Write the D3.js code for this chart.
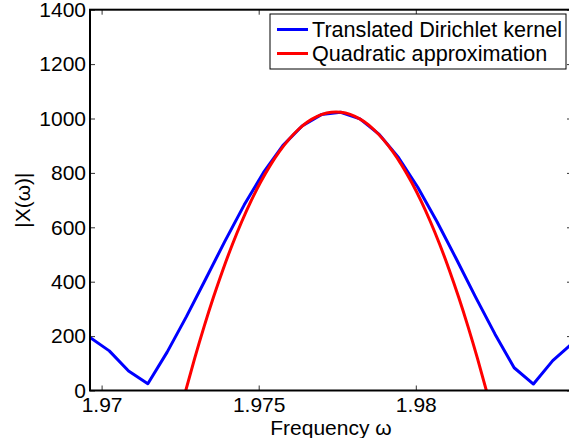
<!DOCTYPE html>
<html>
<head>
<meta charset="utf-8">
<script src="https://cdn.jsdelivr.net/npm/d3@7"></script>
<style>
  html, body { margin: 0; padding: 0; background: #fff; }
  svg { display: block; font-family: "Liberation Sans", Arial, sans-serif; }
</style>
</head>
<body>
<div id="chart"></div>
<script>
// frequency samples (rad/sample) of the kernel
const omega = [
  1.969631, 1.970245, 1.970859, 1.971472, 1.972086, 1.972699, 1.973313,
  1.973926, 1.974540, 1.975154, 1.975767, 1.976381, 1.976994, 1.977608,
  1.978222, 1.978835, 1.979449, 1.980062, 1.980676, 1.981290, 1.981903,
  1.982517, 1.983130, 1.983744, 1.984358, 1.984971
];
// |X(w)| of the translated Dirichlet kernel
const dirichlet = [
  194.8, 145.7, 71.8, 24.9, 141.1, 271.5, 410.1, 549.4, 682.6, 801.6,
  900.2, 972.5, 1014.3, 1023.0, 998.4, 941.7, 856.4, 747.1, 620.5, 483.5,
  343.5, 208.0, 83.7, 23.8, 110.0, 172.2
];
// quadratic approximation, on a finer frequency grid
const omegaQuad = [
  1.972662, 1.972962, 1.973262, 1.973562, 1.973862, 1.974162, 1.974462,
  1.974762, 1.975062, 1.975362, 1.975662, 1.975962, 1.976262, 1.976562,
  1.976862, 1.977162, 1.977462, 1.977762, 1.978062, 1.978362, 1.978662,
  1.978962, 1.979262, 1.979562, 1.979862, 1.980162, 1.980462, 1.980762,
  1.981062, 1.981362, 1.981662, 1.981962, 1.982262
];
const quadratic = [
  -6.8, 118.0, 234.8, 343.5, 444.2, 536.8, 621.3, 697.9, 766.3, 826.7,
  879.0, 923.3, 959.6, 987.8, 1007.9, 1020.0, 1024.0, 1020.0, 1007.9,
  987.8, 959.6, 923.3, 879.0, 826.7, 766.3, 697.9, 621.3, 536.8, 444.2,
  343.5, 234.8, 118.0, -6.8
];
const xTicks = [1.97, 1.975, 1.98];
const yTicks = [0, 200, 400, 600, 800, 1000, 1200, 1400];
const seriesNames = ["Translated Dirichlet kernel", "Quadratic approximation"];
const seriesColors = ["#0000ff", "#ff0000"];

const W = 569, H = 438;
const pLeft = 90, pRight = 572, pTop = 9.7, pBottom = 390.5;

const svg = d3.select("#chart").append("svg").attr("width", W).attr("height", H);

const x = d3.scaleLinear().domain([omega[0], omega[omega.length - 1]]).range([pLeft, pRight]);
const y = d3.scaleLinear().domain([0, 1400]).range([pBottom, pTop]);

svg.append("defs").append("clipPath").attr("id", "plotClip")
  .append("rect").attr("x", pLeft).attr("y", pTop).attr("width", pRight - pLeft).attr("height", pBottom - pTop);

// axes with inward ticks on all four sides
const styleAxis = g => {
  g.select(".domain").remove();
  g.selectAll(".tick line").attr("stroke", "#333").attr("stroke-width", 1);
  g.selectAll("text").attr("font-family", "'Liberation Sans', Arial, sans-serif")
    .attr("font-size", 21).attr("fill", "#000");
};

svg.append("g").attr("transform", `translate(0,${pBottom})`)
  .call(d3.axisBottom(x).tickValues(xTicks).tickFormat(d3.format("")).tickSizeInner(-5).tickSizeOuter(0).tickPadding(7))
  .call(styleAxis);
svg.append("g").attr("transform", `translate(0,${pTop})`)
  .call(d3.axisTop(x).tickValues(xTicks).tickFormat("").tickSizeInner(-5).tickSizeOuter(0))
  .call(styleAxis);
svg.append("g").attr("transform", `translate(${pLeft},0)`)
  .call(d3.axisLeft(y).tickValues(yTicks).tickFormat(d3.format("d")).tickSizeInner(-5).tickSizeOuter(0).tickPadding(4))
  .call(styleAxis);
svg.append("g").attr("transform", `translate(${pRight},0)`)
  .call(d3.axisRight(y).tickValues(yTicks).tickFormat("").tickSizeInner(-5).tickSizeOuter(0))
  .call(styleAxis);

// data lines
const plot = svg.append("g").attr("clip-path", "url(#plotClip)");
const kernelLine = d3.line().x((d, j) => x(omega[j])).y(d => y(d));
plot.append("path").datum(dirichlet)
  .attr("fill", "none").attr("stroke", seriesColors[0]).attr("stroke-width", 3)
  .attr("stroke-linejoin", "round").attr("d", kernelLine);
const quadLine = d3.line().x((d, j) => x(omegaQuad[j])).y(d => y(d)).curve(d3.curveMonotoneX);
plot.append("path").datum(quadratic)
  .attr("fill", "none").attr("stroke", seriesColors[1]).attr("stroke-width", 3)
  .attr("stroke-linejoin", "round").attr("d", quadLine);

// axes box
svg.append("rect").attr("x", pLeft).attr("y", pTop).attr("width", pRight - pLeft).attr("height", pBottom - pTop)
  .attr("fill", "none").attr("stroke", "#000").attr("stroke-width", 2);

// axis labels
svg.append("text").attr("x", (pLeft + pRight) / 2).attr("y", 435).attr("text-anchor", "middle")
  .attr("font-size", 21).text("Frequency ω");
svg.append("text").attr("transform", `translate(30,${(pTop + pBottom) / 2}) rotate(-90)`)
  .attr("text-anchor", "middle").attr("font-size", 21).text("|X(ω)|");

// legend
const lg = svg.append("g");
lg.append("rect").attr("x", 270).attr("y", 14).attr("width", 296).attr("height", 55)
  .attr("fill", "#fff").attr("stroke", "#000").attr("stroke-width", 1);
seriesNames.forEach((name, i) => {
  const cy = 29.5 + i * 24;
  lg.append("line").attr("x1", 277).attr("x2", 308).attr("y1", cy).attr("y2", cy)
    .attr("stroke", seriesColors[i]).attr("stroke-width", 3);
  lg.append("text").attr("x", 312).attr("y", cy + 7.5).attr("font-size", 21.6).text(name);
});
</script>
</body>
</html>
